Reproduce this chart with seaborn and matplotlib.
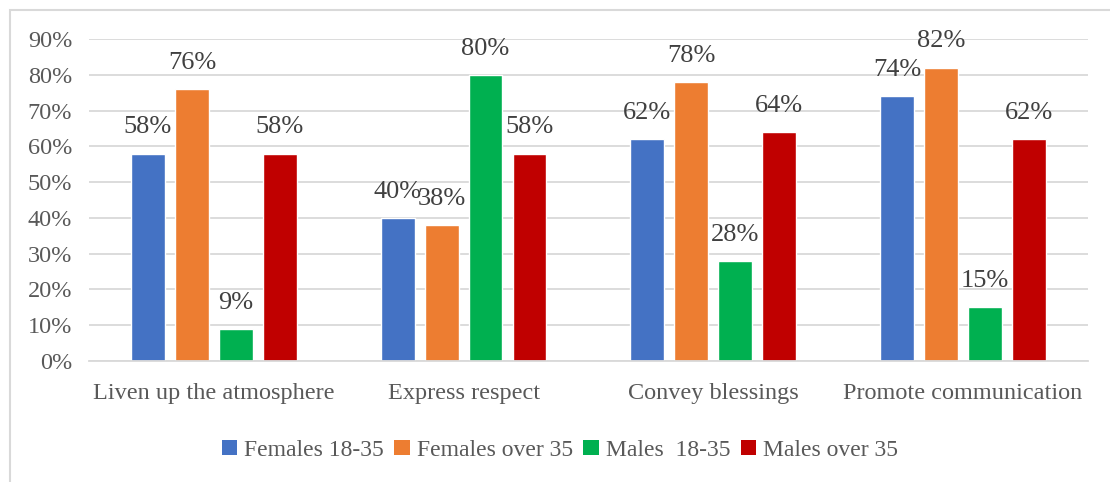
import matplotlib
matplotlib.use("Agg")
import matplotlib.pyplot as plt
from matplotlib.patches import Rectangle, Patch
from matplotlib.ticker import PercentFormatter
import seaborn as sns
import pandas as pd

# Survey results: share of respondents per purpose and group
categories = ["Liven up the atmosphere", "Express respect", "Convey blessings", "Promote communication"]
groups = ["Females 18-35", "Females over 35", "Males  18-35", "Males over 35"]
females_18_35 = [58, 40, 62, 74]
females_over_35 = [76, 38, 78, 82]
males_18_35 = [9, 80, 28, 15]
males_over_35 = [58, 58, 64, 62]
colors = ["#4472C4", "#ED7D31", "#00B050", "#C00000"]

series = [females_18_35, females_over_35, males_18_35, males_over_35]
rows = []
for g, vals in zip(groups, series):
    for c, v in zip(categories, vals):
        rows.append({"category": c, "group": g, "value": v / 100})
df = pd.DataFrame(rows)

sns.set_theme(style="white")
plt.rcParams["font.family"] = ["Liberation Serif", "DejaVu Serif"]

fig = plt.figure(figsize=(11.1, 4.82), dpi=100)
ax = fig.add_axes([0.0802, 0.251, 0.8998, 0.668])

sns.barplot(data=df, x="category", y="value", hue="group", order=categories,
            hue_order=groups, palette=colors, width=0.704, gap=0.23,
            saturation=1, errorbar=None, ax=ax, legend=False)

ax.set_ylim(0, 0.9)
ax.set_yticks([i / 10 for i in range(10)])
ax.yaxis.set_major_formatter(PercentFormatter(1.0, decimals=0))
ax.grid(axis="y", color="#d9d9d9", linewidth=1.3)
ax.set_axisbelow(True)
for s in ["top", "right", "left"]:
    ax.spines[s].set_visible(False)
ax.spines["bottom"].set_color("#d9d9d9")
ax.spines["bottom"].set_linewidth(1.3)
ax.tick_params(axis="both", length=0, colors="#595959", labelsize=17.5)
ax.tick_params(axis="x", pad=16)
ax.tick_params(axis="y", pad=12)
ax.set_xlabel("")
ax.set_ylabel("")

# Value labels above each bar
for container in ax.containers:
    labels = [f"{round(b.get_height() * 100)}%" for b in container]
    ax.bar_label(container, labels=labels, padding=11, fontsize=19, color="#404040")

handles = [Patch(facecolor=c, edgecolor="none") for c in colors]
fig.legend(handles, groups, loc="center", bbox_to_anchor=(0.5045, 0.066),
           ncol=4, frameon=False, fontsize=17, handlelength=0.65, handleheight=0.65,
           handletextpad=0.3, columnspacing=0.45, labelcolor="#595959")

# Outer chart border
fig.patches.append(Rectangle((9.5 / 1110, -0.1), 1.2, 1 - 10 / 482 + 0.1,
                             transform=fig.transFigure, fill=False,
                             edgecolor="#d9d9d9", linewidth=1.5))

fig.savefig("out.png", dpi=100)
